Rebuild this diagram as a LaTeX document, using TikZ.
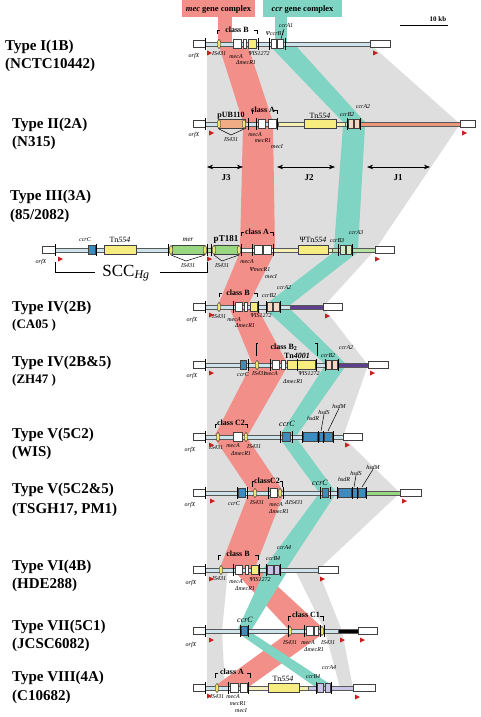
\documentclass[tikz,border=0pt]{standalone}
\usepackage{fontspec}
\setmainfont{Liberation Serif}
\usetikzlibrary{arrows.meta}
\definecolor{bandgray}{RGB}{222,222,222}
\definecolor{mecred}{RGB}{241,143,136}
\definecolor{ccrteal}{RGB}{128,212,196}
\definecolor{lineblue}{RGB}{206,228,236}
\definecolor{isyellow}{RGB}{240,228,110}
\definecolor{tnyellow}{RGB}{246,236,128}
\definecolor{lightyellow}{RGB}{246,240,182}
\definecolor{genegreen}{RGB}{152,214,128}
\definecolor{geneblue}{RGB}{62,140,190}
\definecolor{ccrpeach}{RGB}{246,216,196}
\definecolor{ccrgreen}{RGB}{214,236,190}
\definecolor{ccrlav}{RGB}{202,196,232}
\definecolor{barpurple}{RGB}{96,62,142}
\definecolor{barsalmon}{RGB}{236,150,122}
\definecolor{pubfill}{RGB}{240,172,132}
\definecolor{flagred}{RGB}{200,30,30}

\begin{document}
\begin{tikzpicture}[x=1pt,y=-1pt,
  bar/.style={draw=black!65, line width=0.5pt},
  endbox/.style={draw=black!75, fill=white, line width=0.6pt},
  gene/.style={draw=black!75, line width=0.5pt},
  is/.style={draw=black!75, fill=isyellow, line width=0.4pt},
  tick/.style={line width=1pt},
  flag/.style={fill=flagred},
  brk/.style={line width=0.5pt},
  lab/.style={font=\fontsize{6}{6}\selectfont\itshape, inner sep=0pt},
  cls/.style={font=\fontsize{8}{8}\selectfont\bfseries, inner sep=0pt},
  tn/.style={font=\fontsize{8}{8}\selectfont, inner sep=0pt},
  typ/.style={font=\fontsize{15}{15}\selectfont\bfseries, anchor=west, inner sep=0pt}]
\useasboundingbox (0,0) rectangle (480,717);

% gray homology background
\fill[bandgray] (207,44) -- (370,44) -- (460,124) -- (375,250) -- (323,307) -- (368,365)
  -- (343,437) -- (400,493) -- (318,570) -- (207,570) -- cycle;
\fill[bandgray] (295,570) -- (318,570) -- (342,631) -- (353,688) -- (340,688) -- (325,631) -- cycle;
\fill[bandgray] (207,570) -- (228,570) -- (222,631) -- (225,688) -- (207,688) -- cycle;

% mec bands
\fill[mecred] (182,0) rectangle (255,17);
\fill[mecred] (218,17) rectangle (232,44);
\fill[mecred] (219,46) -- (248,46) -- (273,122) -- (243,122) -- cycle;
\fill[mecred] (243,126) -- (273,126) -- (275,248) -- (240,248) -- cycle;
\fill[mecred] (240,252) -- (275,252) -- (248,305) -- (218,305) -- cycle;
\fill[mecred] (230,309) -- (258,309) -- (287,363) -- (252,363) -- cycle;
\fill[mecred] (250,367) -- (287,367) -- (248,435) -- (215,435) -- cycle;
\fill[mecred] (215,439) -- (248,439) -- (283,491) -- (250,491) -- cycle;
\fill[mecred] (248,495) -- (283,495) -- (255,568) -- (220,568) -- cycle;
\fill[mecred] (235,572) -- (262,572) -- (324,629) -- (288,629) -- cycle;
\fill[mecred] (288,633) -- (324,633) -- (250,686) -- (215,686) -- cycle;

% ccr bands
\fill[ccrteal] (263,0) rectangle (342,17);
\fill[ccrteal] (275,17) rectangle (287,44);
\fill[ccrteal] (270,46) -- (296,46) -- (365,122) -- (343,122) -- cycle;
\fill[ccrteal] (343,126) -- (365,126) -- (358,248) -- (334,248) -- cycle;
\fill[ccrteal] (334,252) -- (358,252) -- (290,305) -- (265,305) -- cycle;
\fill[ccrteal] (265,309) -- (290,309) -- (345,363) -- (324,363) -- cycle;
\fill[ccrteal] (324,367) -- (345,367) -- (297,435) -- (280,435) -- cycle;
\fill[ccrteal] (280,439) -- (297,439) -- (335,491) -- (318,491) -- cycle;
\fill[ccrteal] (318,495) -- (335,495) -- (287,568) -- (264,568) -- cycle;
\fill[ccrteal] (264,572) -- (287,572) -- (252,629) -- (238,629) -- cycle;
\fill[ccrteal] (238,633) -- (252,633) -- (333,686) -- (314,686) -- cycle;

\node[font=\fontsize{8.5}{8.5}\selectfont\bfseries] (mechead) at (218.5,9) {\textit{mec} gene complex};
\node[font=\fontsize{8.5}{8.5}\selectfont\bfseries] (ccrhead) at (302.5,9) {\textit{ccr} gene complex};

% scale bar
\draw[line width=0.8pt] (400,25) -- (448,25);
\node[font=\fontsize{7}{7}\selectfont\bfseries] (kb) at (438,19) {10 kb};

% Type I
\draw[bar, fill=lineblue] (205,42) rectangle (370,46);
\draw[endbox] (193,40.5) rectangle (205,47.5);
\draw[endbox] (370,40.5) rectangle (390,47.5);
\draw[is] (219,44) ellipse (1.8 and 4.5);
\draw[gene, fill=white] (233,39.5) rectangle (241,48.5);
\draw[gene, fill=white] (243,39.5) rectangle (246,48.5);
\draw[gene, fill=tnyellow] (248,39.5) rectangle (256,48.5);
\draw[gene, fill=white] (271,39.5) rectangle (276,48.5);
\draw[gene, fill=white] (277,39.5) rectangle (283,48.5);
\draw[brk] (217,34) -- (217,30) -- (220,30) (254,30) -- (257,30) -- (257,34);
\node[cls] (cls1) at (237,30) {class B};
\node[lab] (ccrb1) at (275,34) {ΨccrB1};
\node[lab] (ccra1) at (286,26) {ccrA1};
\draw[brk] (284,29) -- (281,39);
\node[lab] (orfx1) at (194,56) {orfX};
\node[lab] (is1) at (219,54) {IS431};
\node[lab] (meca1) at (236,57) {mecA};
\node[lab] (mecr1) at (246,63) {ΔmecR1};
\node[lab] (isb1) at (259,54) {ΨIS1272};

% Type II
\draw[bar, fill=lineblue] (205,122) rectangle (460,126);
\draw[bar, fill=lightyellow] (278,122) rectangle (345,126);
\draw[bar, fill=barsalmon] (360,122) rectangle (460,126);
\draw[endbox] (193,120.5) rectangle (205,127.5);
\draw[endbox] (460,120.5) rectangle (475,127.5);
\draw[gene, fill=pubfill] (218,119.5) rectangle (245,128.5);
\draw[is] (219,124) ellipse (1.8 and 4.5);
\draw[is] (244,124) ellipse (1.8 and 4.5);
\draw[gene, fill=white] (258,119.5) rectangle (265,128.5);
\draw[gene, fill=white] (268,119.5) rectangle (276,128.5);
\draw[gene, fill=tnyellow] (304,119.5) rectangle (336,128.5);
\draw[gene, fill=ccrpeach] (348,119.5) rectangle (353,128.5);
\draw[gene, fill=ccrpeach] (354,119.5) rectangle (359,128.5);
\draw[brk] (252,114) -- (252,110) -- (254,110) (274,110) -- (277,110) -- (277,114);
\node[cls] (cls2) at (263,110) {class A};
\node[cls] (pub2) at (231,116) {pUB110};
\node[tn] (tn2) at (320,116) {Tn\textit{554}};
\node[lab] (ccrb2) at (347,115) {ccrB2};
\node[lab] (ccra2) at (363,107) {ccrA2};
\draw[brk] (219,129) -- (231,135) -- (244,129);
\node[lab] (is2) at (231,140) {IS431};
\node[lab] (orfx2) at (194,135) {orfX};
\node[lab] (meca2) at (255,135) {mecA};
\node[lab] (mecr2) at (263,141) {mecR1};
\node[lab] (meci2) at (277,147) {mecI};
\draw[Stealth-Stealth, line width=0.7pt] (207,167) -- (243,167);
\draw[Stealth-Stealth, line width=0.7pt] (277,167) -- (335,167);
\draw[Stealth-Stealth, line width=0.7pt] (367,167) -- (430,167);
\node[cls, font=\fontsize{9}{9}\selectfont\bfseries] (j3) at (226,178) {J3};
\node[cls, font=\fontsize{9}{9}\selectfont\bfseries] (j2) at (309,178) {J2};
\node[cls, font=\fontsize{9}{9}\selectfont\bfseries] (j1) at (398,178) {J1};

% Type III
\draw[bar, fill=lineblue] (55,248) rectangle (375,252);
\draw[bar, fill=genegreen!70] (168,248) rectangle (241,252);
\draw[bar, fill=white] (241,248) rectangle (273,252);
\draw[bar, fill=lightyellow] (273,248) rectangle (332,252);
\draw[bar, fill=genegreen!70] (332,248) rectangle (375,252);
\draw[endbox] (42,246.5) rectangle (55,253.5);
\draw[endbox] (375,246.5) rectangle (394,253.5);
\draw[gene, fill=geneblue] (88,245.5) rectangle (95,254.5);
\draw[gene, fill=tnyellow] (104,245.5) rectangle (136,254.5);
\draw[gene, fill=genegreen] (172,245.5) rectangle (204,254.5);
\draw[is] (171,250) ellipse (1.8 and 4.5);
\draw[is] (205,250) ellipse (1.8 and 4.5);
\draw[gene, fill=genegreen] (214,245.5) rectangle (238,254.5);
\draw[is] (214,250) ellipse (1.8 and 4.5);
\draw[is] (239,250) ellipse (1.8 and 4.5);
\draw[gene, fill=white] (254,245.5) rectangle (262,254.5);
\draw[gene, fill=white] (263,245.5) rectangle (271,254.5);
\draw[gene, fill=tnyellow] (298,245.5) rectangle (328,254.5);
\draw[gene, fill=ccrgreen] (340,245.5) rectangle (345,254.5);
\draw[gene, fill=ccrgreen] (346,245.5) rectangle (351,254.5);
\draw[brk] (241,236) -- (241,232) -- (244,232) (270,232) -- (273,232) -- (273,236);
\node[cls] (cls3) at (257,232) {class A};
\node[lab] (ccrc3) at (85,240) {ccrC};
\node[tn] (tn3) at (120,240) {Tn\textit{554}};
\node[lab, font=\fontsize{7}{7}\selectfont\itshape] (mer3) at (188,240) {mer};
\node[cls, font=\fontsize{9}{9}\selectfont\bfseries] (pt3) at (226,239) {pT181};
\node[tn] (ptn3) at (313,240) {ΨTn\textit{554}};
\node[lab] (ccrb3) at (337,241) {ccrB3};
\node[lab] (ccra3) at (356,233) {ccrA3};
\draw[brk] (171,255) -- (186,261) -- (205,255);
\draw[brk] (214,255) -- (222,261) -- (239,255);
\node[lab] (is3a) at (188,266) {IS431};
\node[lab] (is3b) at (222,266) {IS431};
\node[lab] (orfx3) at (41,262) {orfX};
\node[lab] (meca3) at (247,262) {mecA};
\node[lab] (mecr3) at (260,270) {ΨmecR1};
\node[lab] (meci3) at (271,277) {mecI};
\draw[brk] (55,262) -- (55,272) -- (95,272) (160,272) -- (207,272) -- (207,262);
\node[font=\fontsize{17}{17}\selectfont] (scchg) at (126,273) {SCC\textsubscript{\textit{Hg}}};

% Type IV(2B)
\draw[bar, fill=lineblue] (205,305) rectangle (323,309);
\draw[bar, fill=barpurple] (290,305) rectangle (323,309);
\draw[endbox] (193,303.5) rectangle (205,310.5);
\draw[endbox] (323,303.5) rectangle (342,310.5);
\draw[is] (219,307) ellipse (1.8 and 4.5);
\draw[gene, fill=white] (235,302.5) rectangle (242,311.5);
\draw[gene, fill=white] (244,302.5) rectangle (247,311.5);
\draw[gene, fill=tnyellow] (250,302.5) rectangle (257,311.5);
\draw[gene, fill=ccrpeach] (267,302.5) rectangle (272,311.5);
\draw[gene, fill=ccrpeach] (273,302.5) rectangle (279,311.5);
\draw[brk] (219,297) -- (219,293) -- (222,293) (254,293) -- (257,293) -- (257,297);
\node[cls] (cls4) at (238,293) {class B};
\node[lab] (ccrb4) at (269,296) {ccrB2};
\node[lab] (ccra4) at (284,288) {ccrA2};
\node[lab] (orfx4) at (192,320) {orfX};
\node[lab] (is4) at (219,317) {IS431};
\node[lab] (meca4) at (234,320) {mecA};
\node[lab] (mecr4) at (245,326) {ΔmecR1};
\node[lab] (isb4) at (261,316) {ΨIS1272};

% Type IV(2B&5)
\draw[bar, fill=lineblue] (205,363) rectangle (368,367);
\draw[bar, fill=barpurple] (338,363) rectangle (368,367);
\draw[endbox] (193,361.5) rectangle (205,368.5);
\draw[endbox] (368,361.5) rectangle (388,368.5);
\draw[gene, fill=geneblue] (240,360.5) rectangle (246,369.5);
\draw[is] (257,365) ellipse (1.8 and 4.5);
\draw[gene, fill=white] (272,360.5) rectangle (279,369.5);
\draw[gene, fill=white] (281,360.5) rectangle (285,369.5);
\draw[gene, fill=tnyellow] (287,360.5) rectangle (315,369.5);
\draw[gene, fill=ccrpeach] (326,360.5) rectangle (331,369.5);
\draw[gene, fill=ccrpeach] (332,360.5) rectangle (337,369.5);
\draw[brk] (256,356) -- (256,343) -- (258,343) (315,343) -- (317,343) -- (317,356);
\node[cls] (cls5) at (284,347) {class B\textsubscript{2}};
\node[cls] (tn5) at (297,356) {Tn\textit{4001}};
\node[lab] (ccrb5) at (328,356) {ccrB2};
\node[lab] (ccra5) at (346,348) {ccrA2};
\node[lab] (orfx5) at (192,376) {orfX};
\node[lab] (ccrc5) at (243,375) {ccrC};
\node[lab] (is5) at (259,374) {IS431};
\node[lab] (meca5) at (271,374) {mecA};
\node[lab] (mecr5) at (293,382) {ΔmecR1};
\node[lab] (isb5) at (309,374) {ΨIS1272};

% Type V(5C2)
\draw[bar, fill=lineblue] (205,435) rectangle (343,439);
\draw[endbox] (193,433.5) rectangle (205,440.5);
\draw[endbox] (343,433.5) rectangle (362,440.5);
\draw[is] (218,437) ellipse (1.8 and 4.5);
\draw[gene, fill=white] (233,432.5) rectangle (242,441.5);
\draw[is] (246,437) ellipse (1.8 and 4.5);
\draw[gene, fill=geneblue] (282,432.5) rectangle (290,441.5);
\draw[gene, fill=geneblue] (303,432.5) rectangle (317,441.5);
\draw[gene, fill=geneblue] (319,432.5) rectangle (323,441.5);
\draw[gene, fill=geneblue] (324,432.5) rectangle (332,441.5);
\draw[brk] (215,428) -- (215,424) -- (217,424) (245,424) -- (247,424) -- (247,428);
\node[cls] (cls6) at (231,423) {class C2};
\node[lab, font=\fontsize{8}{8}\selectfont\itshape] (ccrc6) at (287,424) {ccrC};
\node[lab] (hsdr6) at (313,418) {hsdR};
\node[lab] (hsds6) at (324,412) {hsdS};
\node[lab] (hsdm6) at (339,406) {hsdM};
\draw[brk] (hsds6.south) -- (321,431);
\draw[brk] (hsdm6.south) -- (328,431);
\node[lab] (orfx6) at (190,450) {orfX};
\node[lab] (is6a) at (216,448) {IS431};
\node[lab] (meca6) at (233,446) {mecA};
\node[lab] (mecr6) at (241,454) {ΔmecR1};
\node[lab] (is6b) at (254,447) {IS431};

% Type V(5C2&5)
\draw[bar, fill=lineblue] (205,491) rectangle (400,495);
\draw[bar, fill=genegreen] (365,491) rectangle (400,495);
\draw[endbox] (193,489.5) rectangle (205,496.5);
\draw[endbox] (400,489.5) rectangle (421,496.5);
\draw[gene, fill=geneblue] (238,488.5) rectangle (245,497.5);
\draw[is] (255,493) ellipse (1.8 and 4.5);
\draw[gene, fill=white] (270,488.5) rectangle (277,497.5);
\draw[is] (280,493) ellipse (1.8 and 4.5);
\draw[gene, fill=geneblue] (322,488.5) rectangle (328,497.5);
\draw[gene, fill=geneblue] (338,488.5) rectangle (351,497.5);
\draw[gene, fill=geneblue] (352,488.5) rectangle (357,497.5);
\draw[gene, fill=geneblue] (358,488.5) rectangle (365,497.5);
\draw[brk] (252,487) -- (252,481) -- (254,481) (280,481) -- (282,481) -- (282,487);
\node[cls] (cls7) at (267,481) {classC2};
\node[lab, font=\fontsize{8}{8}\selectfont\itshape] (ccrc7) at (320,483) {ccrC};
\node[lab] (hsdr7) at (344,479) {hsdR};
\node[lab] (hsds7) at (356,473) {hsdS};
\node[lab] (hsdm7) at (373,467) {hsdM};
\draw[brk] (hsds7.south) -- (354,487);
\draw[brk] (hsdm7.south) -- (362,487);
\node[lab] (orfx7) at (190,505) {orfX};
\node[lab] (ccrc7b) at (234,504) {ccrC};
\node[lab] (is7a) at (257,503) {IS431};
\node[lab] (meca7) at (276,505) {mecA};
\node[lab] (mecr7) at (279,512) {ΔmecR1};
\node[lab] (is7b) at (294,503) {ΔIS431};

% Type VI(4B)
\draw[bar, fill=lineblue] (205,568) rectangle (318,572);
\draw[endbox] (193,566.5) rectangle (205,573.5);
\draw[endbox] (318,566.5) rectangle (338,573.5);
\draw[is] (221,570) ellipse (1.8 and 4.5);
\draw[gene, fill=white] (235,565.5) rectangle (242,574.5);
\draw[gene, fill=white] (245,565.5) rectangle (248,574.5);
\draw[gene, fill=tnyellow] (251,565.5) rectangle (258,574.5);
\draw[gene, fill=ccrlav] (267,565.5) rectangle (273,574.5);
\draw[gene, fill=ccrlav] (274,565.5) rectangle (279,574.5);
\draw[brk] (218,560) -- (218,555) -- (221,555) (255,555) -- (258,555) -- (258,560);
\node[cls] (cls8) at (238,554) {class B};
\node[lab] (ccrb8) at (273,559) {ccrB4};
\node[lab] (ccra8) at (284,548) {ccrA4};
\node[lab] (orfx8) at (191,583) {orfX};
\node[lab] (is8) at (219,579) {IS431};
\node[lab] (meca8) at (236,582) {mecA};
\node[lab] (mecr8) at (245,589) {ΔmecR1};
\node[lab] (isb8) at (260,580) {ΨIS1272};

% Type VII(5C1)
\draw[bar, fill=lineblue] (205,629) rectangle (358,633);
\draw[bar, fill=black] (338,629) rectangle (358,633);
\draw[endbox] (193,627.5) rectangle (205,634.5);
\draw[endbox] (358,627.5) rectangle (377,634.5);
\draw[gene, fill=geneblue] (241,626.5) rectangle (247,635.5);
\draw[is] (290,631) ellipse (1.8 and 4.5);
\draw[gene, fill=white] (306,626.5) rectangle (313,635.5);
\draw[gene, fill=white] (314,626.5) rectangle (318,635.5);
\draw[is] (322,631) ellipse (1.8 and 4.5);
\draw[brk] (288,621) -- (288,616) -- (291,616) (320,616) -- (323,616) -- (323,621);
\node[cls] (cls9) at (306,615) {class C1};
\node[lab, font=\fontsize{8}{8}\selectfont\itshape] (ccrc9) at (245,620) {ccrC};
\node[lab] (orfx9) at (191,645) {orfX};
\node[lab] (is9a) at (290,643) {IS431};
\node[lab] (meca9) at (308,643) {mecA};
\node[lab] (mecr9) at (314,650) {ΔmecR1};
\node[lab] (is9b) at (328,643) {IS431};

% Type VIII(4A)
\draw[bar, fill=lineblue] (205,686) rectangle (353,690);
\draw[bar, fill=lightyellow] (248,686) rectangle (308,690);
\draw[bar, fill=ccrlav] (308,686) rectangle (353,690);
\draw[endbox] (193,684.5) rectangle (205,691.5);
\draw[endbox] (353,684.5) rectangle (375,691.5);
\draw[is] (217,688) ellipse (1.8 and 4.5);
\draw[gene, fill=white] (230,683.5) rectangle (238,692.5);
\draw[gene, fill=white] (240,683.5) rectangle (247,692.5);
\draw[gene, fill=tnyellow] (268,683.5) rectangle (299,692.5);
\draw[gene, fill=ccrlav] (317,683.5) rectangle (323,692.5);
\draw[gene, fill=ccrlav] (325,683.5) rectangle (330,692.5);
\draw[brk] (215,678) -- (215,673) -- (218,673) (247,673) -- (250,673) -- (250,678);
\node[cls] (cls10) at (232,672) {class A};
\node[tn] (tn10) at (283,679) {Tn\textit{554}};
\node[lab] (ccrb10) at (313,677) {ccrB4};
\node[lab] (ccra10) at (329,668) {ccrA4};
\node[lab] (is10) at (217,697) {IS431};
\node[lab] (meca10) at (233,697) {mecA};
\node[lab] (mecr10) at (238,704) {mecR1};
\node[lab] (meci10) at (241,711) {mecI};

% boundary marks and att flags
\foreach \x/\y in {205/44, 258/44, 269/44, 285/44,
  205/124, 248/124, 256/124, 277/124, 347/124, 360/124,
  55/250, 96/250, 168/250, 207/250, 211/250, 241/250, 252/250, 273/250, 338/250, 352/250,
  205/307, 233/307, 258/307, 266/307, 280/307,
  205/365, 248/365, 270/365, 297/365, 316/365, 325/365, 338/365,
  205/437, 280/437, 292/437, 302/437, 318/437, 323.5/437, 333/437,
  205/493, 237/493, 247/493, 268/493, 283/493, 320/493, 330/493, 337/493, 352/493, 357.5/493, 366/493,
  205/570, 233/570, 259/570, 266/570, 280/570,
  205/631, 240/631, 248/631, 288/631, 304/631, 320/631, 324/631,
  205/688, 228/688, 248/688, 316/688, 331/688}
  \draw[tick] (\x,\y-6) -- (\x,\y+6);
\foreach \x/\y in {207/53, 373/53, 209/133, 462/133, 58/259, 207/259, 375/259,
  209/315, 325/316, 209/373, 370/373, 209/445, 345/445, 210/501, 402/501,
  209/579, 320/579, 209/640, 340/640, 360/640, 207/696, 355/697}
  \fill[flag] (\x,\y-2.5) -- (\x+5,\y) -- (\x,\y+2.5) -- cycle;

% type names
\node[typ] (t1) at (5,47) {Type I(1B)};
\node[typ] (s1) at (5,65) {(NCTC10442)};
\node[typ] (t2) at (12,125) {Type II(2A)};
\node[typ] (s2) at (12,143) {(N315)};
\node[typ] (t3) at (10,197) {Type III(3A)};
\node[typ] (s3) at (10,216) {(85/2082)};
\node[typ] (t4) at (12,308) {Type IV(2B)};
\node[typ, font=\fontsize{13}{13}\selectfont\bfseries] (s4) at (12,325) {(CA05 )};
\node[typ] (t5) at (12,363) {Type IV(2B\&5)};
\node[typ, font=\fontsize{13}{13}\selectfont\bfseries] (s5) at (12,380) {(ZH47 )};
\node[typ] (t6) at (12,435) {Type V(5C2)};
\node[typ] (s6) at (12,453) {(WIS)};
\node[typ] (t7) at (12,490) {Type V(5C2\&5)};
\node[typ] (s7) at (12,510) {(TSGH17, PM1)};
\node[typ] (t8) at (12,567) {Type VI(4B)};
\node[typ] (s8) at (12,585) {(HDE288)};
\node[typ] (t9) at (12,627) {Type VII(5C1)};
\node[typ] (s9) at (12,645) {(JCSC6082)};
\node[typ] (t10) at (12,678) {Type VIII(4A)};
\node[typ] (s10) at (12,697) {(C10682)};
\end{tikzpicture}
\end{document}
